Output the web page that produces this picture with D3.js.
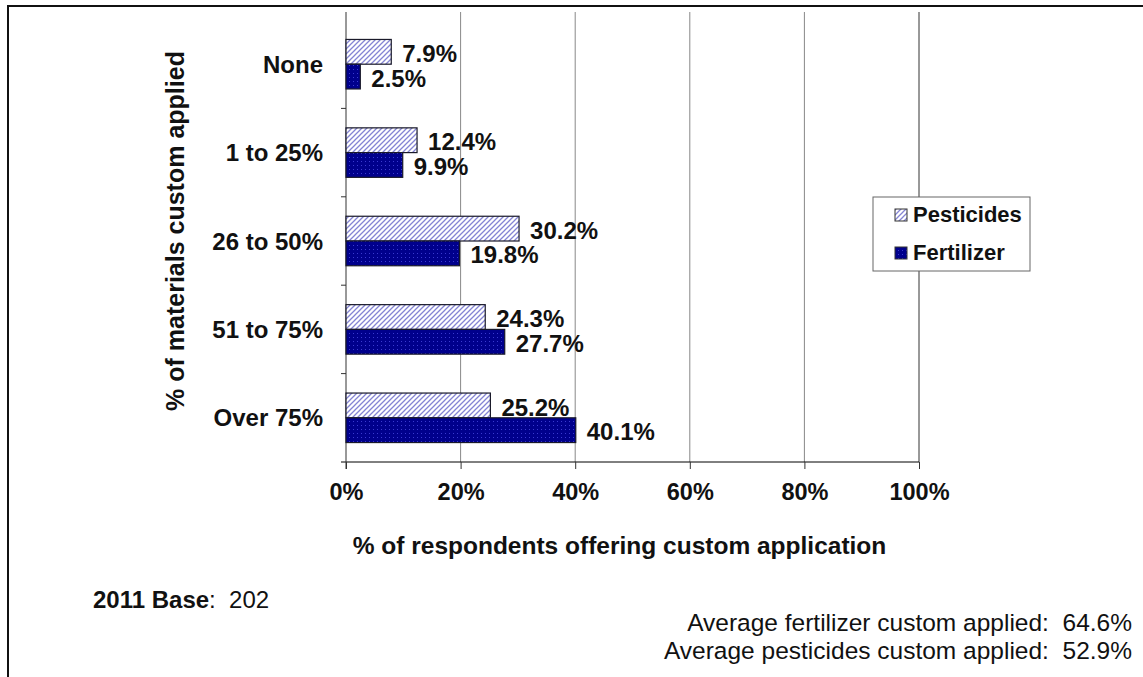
<!DOCTYPE html>
<html>
<head>
<meta charset="utf-8">
<script src="https://cdn.jsdelivr.net/npm/d3@7"></script>
<style>
  body { margin: 0; background: #fff; }
  svg { font-family: Arial, "Liberation Sans", sans-serif; }
  text { white-space: pre; }
</style>
</head>
<body>
<svg id="chart" width="1143" height="677"></svg>
<script>
// data
const categories = ["None", "1 to 25%", "26 to 50%", "51 to 75%", "Over 75%"];
const series = ["Pesticides", "Fertilizer"];
const pesticides = [7.9, 12.4, 30.2, 24.3, 25.2];
const fertilizer = [2.5, 9.9, 19.8, 27.7, 40.1];
const xTicks = [0, 20, 40, 60, 80, 100];
const notes = ["Average fertilizer custom applied:  64.6%", "Average pesticides custom applied:  52.9%"];

const svg = d3.select("#chart");

// patterns for the two series
const defs = svg.append("defs");
const hatch = defs.append("pattern")
    .attr("id", "hatch")
    .attr("patternUnits", "userSpaceOnUse")
    .attr("width", 5).attr("height", 5);
hatch.append("rect").attr("width", 5).attr("height", 5).attr("fill", "#fff");
hatch.append("path")
    .attr("d", "M-1,6 L6,-1 M-1,1 L1,-1 M4,6 L6,4")
    .attr("stroke", "#8484d4").attr("stroke-width", 1.3);
hatch.append("rect").attr("x", 0).attr("y", 0).attr("width", 1).attr("height", 1).attr("fill", "#c8c8ec");

const dots = defs.append("pattern")
    .attr("id", "dots")
    .attr("patternUnits", "userSpaceOnUse")
    .attr("width", 4).attr("height", 4);
dots.append("rect").attr("width", 4).attr("height", 4).attr("fill", "#00008c");
dots.append("rect").attr("x", 1).attr("y", 1).attr("width", 1).attr("height", 1).attr("fill", "#3a3ad0");

const fills = { "Pesticides": "url(#hatch)", "Fertilizer": "url(#dots)" };

// outer frame
svg.append("rect")
    .attr("x", 8).attr("y", 6)
    .attr("width", 1160).attr("height", 700)
    .attr("fill", "none").attr("stroke", "#111").attr("stroke-width", 2);

const plotL = 346, plotR = 919, plotT = 20, plotB = 462;

const x = d3.scaleLinear().domain([0, 100]).range([plotL, plotR]);
const y = d3.scaleBand()
    .domain(categories)
    .range([plotT, plotB])
    .paddingInner(0.44)
    .paddingOuter(0.22);
const ySub = d3.scaleBand().domain(series).range([0, y.bandwidth()]);

// gridlines
svg.append("g")
    .selectAll("line")
    .data(xTicks.filter(d => d > 0))
    .enter().append("line")
    .attr("x1", d => x(d)).attr("x2", d => x(d))
    .attr("y1", 12).attr("y2", plotB)
    .attr("stroke", d => d == 100 ? "#333" : "#888")
    .attr("stroke-width", 1);

// x axis
const xAxis = svg.append("g")
    .attr("transform", "translate(0," + plotB + ")")
    .call(d3.axisBottom(x).tickValues(xTicks).tickSize(7).tickPadding(14).tickFormat(d => d + "%"));
xAxis.select(".domain").attr("d", "M" + (plotL - 5) + ",0H" + plotR);
xAxis.selectAll("line").attr("stroke", "#333");
xAxis.selectAll("text")
    .attr("font-size", 23.5).attr("font-weight", "bold").attr("fill", "#111")
    .attr("font-family", "Arial, 'Liberation Sans', sans-serif");

// y axis line and ticks at band boundaries
svg.append("line")
    .attr("x1", plotL).attr("x2", plotL)
    .attr("y1", 12).attr("y2", plotB + 7)
    .attr("stroke", "#333");
const step = y.step();
svg.append("g")
    .selectAll("line")
    .data(categories.slice(1))
    .enter().append("line")
    .attr("x1", plotL - 5).attr("x2", plotL)
    .attr("y1", d => y(d) - step * y.paddingInner() / 2)
    .attr("y2", d => y(d) - step * y.paddingInner() / 2)
    .attr("stroke", "#333");

// category labels
svg.append("g")
    .selectAll("text")
    .data(categories)
    .enter().append("text")
    .attr("x", 323)
    .attr("y", d => y(d) + y.bandwidth() / 2)
    .attr("dy", "0.36em")
    .attr("text-anchor", "end")
    .attr("font-size", 24).attr("font-weight", "bold").attr("fill", "#111")
    .text(d => d);

// bars
const rows = [];
categories.forEach((c, i) => {
    rows.push({ cat: c, s: "Pesticides", v: pesticides[i] });
    rows.push({ cat: c, s: "Fertilizer", v: fertilizer[i] });
});

svg.append("g")
    .selectAll("rect")
    .data(rows)
    .enter().append("rect")
    .attr("x", plotL)
    .attr("y", d => y(d.cat) + ySub(d.s))
    .attr("width", d => x(d.v) - plotL)
    .attr("height", ySub.bandwidth())
    .attr("fill", d => fills[d.s])
    .attr("stroke", "#1a1a2a").attr("stroke-width", 1.2);

// value labels
svg.append("g")
    .selectAll("text")
    .data(rows)
    .enter().append("text")
    .attr("x", d => x(d.v) + 11)
    .attr("y", d => y(d.cat) + ySub(d.s) + ySub.bandwidth() / 2)
    .attr("dy", "0.42em")
    .attr("font-size", 24).attr("font-weight", "bold").attr("fill", "#111")
    .text(d => d.v.toFixed(1) + "%");

// axis titles
svg.append("text")
    .attr("x", (plotL + plotR) / 2 - 13).attr("y", 554)
    .attr("text-anchor", "middle")
    .attr("font-size", 24.5).attr("font-weight", "bold").attr("fill", "#111")
    .text("% of respondents offering custom application");

svg.append("text")
    .attr("transform", "translate(184," + (plotT + plotB) / 2 + ") rotate(-90)")
    .attr("x", 10)
    .attr("text-anchor", "middle")
    .attr("font-size", 25).attr("font-weight", "bold").attr("fill", "#111")
    .text("% of materials custom applied");

// legend
const lg = svg.append("g").attr("transform", "translate(873,197)");
lg.append("rect")
    .attr("width", 157).attr("height", 74)
    .attr("fill", "#fff").attr("stroke", "#666").attr("stroke-width", 1);
series.forEach((s, i) => {
    lg.append("rect")
        .attr("x", 22).attr("y", 12 + i * 38)
        .attr("width", 12).attr("height", 12)
        .attr("fill", fills[s]).attr("stroke", "#333");
    lg.append("text")
        .attr("x", 40).attr("y", 25 + i * 38)
        .attr("font-size", 22).attr("font-weight", "bold").attr("fill", "#111")
        .text(s);
});

// footnotes
const base = svg.append("text")
    .attr("x", 93).attr("y", 608)
    .attr("font-size", 24).attr("fill", "#111");
base.append("tspan").attr("font-weight", "bold").text("2011 Base");
base.append("tspan").text(":  202");

svg.append("g")
    .selectAll("text")
    .data(notes)
    .enter().append("text")
    .attr("x", 1132)
    .attr("y", (d, i) => 631 + i * 28)
    .attr("text-anchor", "end")
    .attr("font-size", 24.5).attr("fill", "#111")
    .text(d => d);
</script>
</body>
</html>
